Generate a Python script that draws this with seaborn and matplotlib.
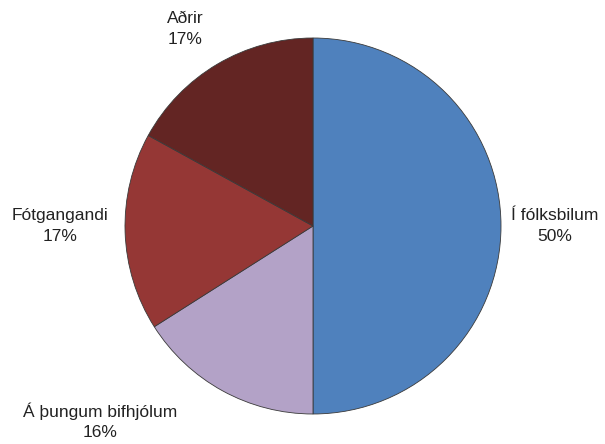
import numpy as np
import matplotlib
matplotlib.use("Agg")
import matplotlib.pyplot as plt
import seaborn as sns

# data
categories = ["Í fólksbilum", "Á þungum bifhjólum", "Fótgangandi", "Aðrir"]
shares = [50, 16, 17, 17]
colors = ["#4F81BD", "#B3A2C7", "#953735", "#632523"]

sns.set_theme(style="white")
plt.rcParams["font.family"] = ["Liberation Sans", "DejaVu Sans"]

W, H = 605, 444
CX, CY, R = 313, 226, 188  # pie centre and radius in pixels

fig = plt.figure(figsize=(W / 100, H / 100), dpi=100)
ax = fig.add_axes([0, 0, 1, 1])

wedges, _ = ax.pie(shares, colors=colors, startangle=90, counterclock=False,
                   radius=1.0, wedgeprops=dict(edgecolor="#3a3a3a", linewidth=0.6))

ax.set_xlim(-CX / R, (W - CX) / R)
ax.set_ylim((CY - H) / R, CY / R)
ax.set_aspect("equal")
ax.axis("off")

# label centres in pixels (layout only)
label_px = [(555, 226), (100, 421), (60, 226), (185, 29)]
for name, share, (px, py) in zip(categories, shares, label_px):
    ax.text((px - CX) / R, (CY - py) / R, f"{name}\n{share}%", ha="center", va="center",
            fontsize=12.5, color="#222222", linespacing=1.45)

fig.savefig("out.png", dpi=100)
